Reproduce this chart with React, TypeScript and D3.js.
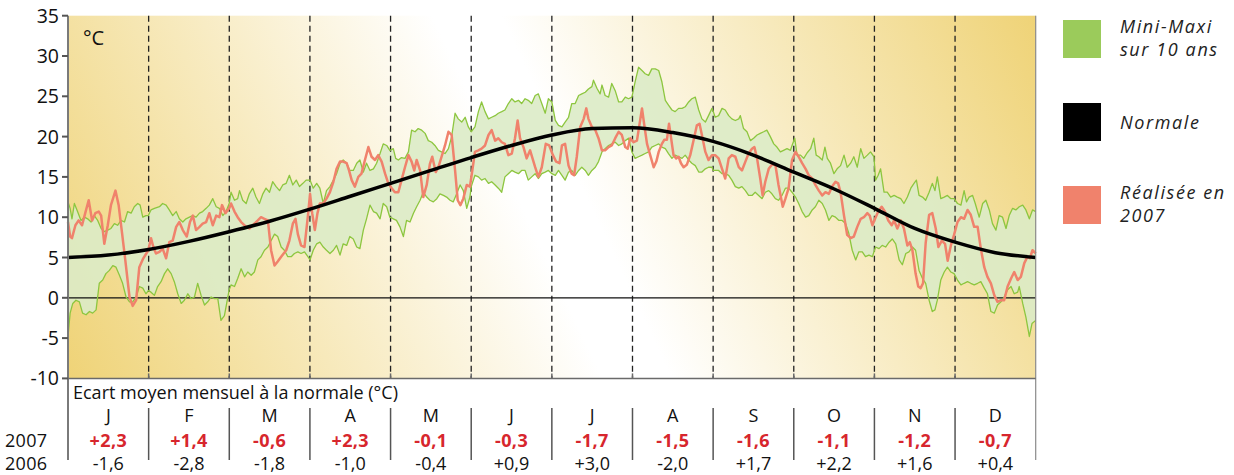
import React from "react";
import * as d3 from "d3";

// Day-of-year positions (equal-width months) and temperatures in °C
const normale: [number, number][] = [
  [0, 5.0], [15.2, 5.3], [30.4, 6.0], [45.6, 7.0], [60.8, 8.2], [76, 9.5], [91.25, 11.0],
  [106.5, 12.6], [121.7, 14.2], [136.9, 15.8], [152.1, 17.4], [167.3, 18.9], [182.5, 20.2],
  [197.7, 21.0], [212.9, 21.1], [228.1, 20.5], [243.3, 19.4], [258.5, 17.7], [273.75, 15.6],
  [289, 13.5], [304.2, 11.1], [319.4, 8.6], [334.6, 6.9], [349.8, 5.6], [365, 5.0],
];

const maxi10ans: [number, number][] = [
  [0, 11.9], [0.8, 11.1], [1.5, 9.8], [2.4, 11.7], [3.6, 10.7], [4.9, 9.6], [6.2, 10.0], [7.4, 9.8], [8.7, 9.4], [9.9, 10.2],
  [11.2, 9.6], [12.5, 8.6], [13.7, 8.2], [15.0, 8.4], [16.2, 8.6], [17.5, 9.2], [18.7, 9.0], [20.0, 9.6], [21.3, 9.4], [22.5, 10.7],
  [23.8, 10.5], [25.0, 11.3], [26.3, 11.7], [27.2, 11.5], [28.2, 10.0], [29.4, 10.2], [30.3, 10.2],
  [31.3, 10.9], [32.6, 11.1], [34.5, 11.3], [35.7, 11.7], [37.0, 11.5], [38.2, 10.9], [39.5, 10.2], [40.8, 10.7], [42.0, 9.8],
  [43.3, 9.4], [44.5, 9.8], [45.8, 10.0], [47.1, 10.2], [48.3, 10.0], [49.6, 10.5], [50.8, 10.7], [52.1, 11.1], [53.3, 11.5],
  [54.6, 12.3], [55.9, 11.3], [57.1, 11.1], [58.4, 10.2], [59.6, 10.7], [60.8, 11.7],
  [61.5, 13.1], [62.8, 12.1], [64.0, 12.3], [64.7, 13.3], [65.9, 12.1], [67.2, 11.7], [68.4, 12.9], [69.7, 13.6], [70.9, 12.5],
  [72.2, 11.7], [73.5, 12.9], [74.7, 13.6], [76.0, 13.1], [77.2, 14.4], [78.5, 13.8], [79.8, 13.3], [81.0, 14.0], [82.3, 14.2],
  [83.5, 15.2], [84.8, 14.0], [86.1, 14.6], [87.3, 13.8], [88.6, 14.2], [89.8, 14.6],
  [91.3, 14.6], [92.5, 13.6], [93.8, 14.2], [95.0, 13.6], [96.3, 11.7], [97.5, 13.3], [98.8, 13.8], [100.1, 14.6], [101.3, 15.4],
  [102.6, 16.7], [103.8, 17.1], [105.1, 16.7], [106.3, 15.8], [107.6, 15.8], [108.9, 16.7], [110.1, 17.1], [111.4, 15.6],
  [112.6, 16.7], [113.9, 15.8], [115.2, 16.0], [116.4, 16.7], [117.7, 17.9], [118.9, 19.1], [120.2, 18.9], [121.4, 18.3],
  [122.7, 18.5], [123.6, 17.3], [124.6, 17.1], [125.8, 17.4], [127.1, 17.3], [128.4, 18.1], [129.6, 20.8], [130.9, 20.6],
  [132.1, 21.0], [133.4, 20.8], [134.7, 20.4], [135.9, 19.5], [137.2, 19.3], [138.4, 18.9], [139.7, 18.3], [140.9, 18.1],
  [142.2, 17.9], [143.5, 18.5], [144.7, 20.0], [146.0, 22.9], [147.2, 22.2], [148.5, 21.8], [149.8, 22.4], [151.0, 21.2], [152.1, 20.6],
  [153.5, 21.2], [154.8, 23.1], [156.0, 24.3], [157.3, 23.1], [158.6, 22.2], [159.8, 22.4], [161.1, 22.6], [162.3, 22.9],
  [163.6, 23.1], [164.8, 23.3], [166.1, 24.1], [167.4, 24.7], [168.6, 24.3], [169.9, 24.5], [171.1, 24.1], [172.4, 24.7],
  [173.6, 24.5], [174.9, 24.1], [176.2, 25.1], [177.4, 25.3], [178.7, 24.1], [180.0, 22.9], [181.2, 24.7], [182.5, 24.3],
  [183.8, 22.0], [185.0, 21.4], [186.3, 21.2], [187.5, 21.8], [188.8, 22.4], [190.0, 24.1], [191.3, 24.1], [192.6, 25.1],
  [193.8, 25.3], [195.1, 25.5], [196.3, 25.9], [197.6, 26.2], [198.2, 27.0], [199.5, 26.0], [200.7, 25.3], [201.4, 26.4],
  [202.6, 25.1], [203.9, 24.9], [205.1, 26.6], [206.4, 25.7], [207.7, 24.3], [208.9, 24.3], [210.2, 24.9], [211.4, 24.7],
  [212.7, 24.9], [213.9, 26.8], [215.2, 28.6], [216.5, 28.2], [217.7, 27.8], [219.0, 27.6], [220.2, 28.4], [221.5, 28.4],
  [222.8, 28.2], [224.0, 26.8], [225.3, 24.5], [226.5, 23.9], [227.8, 23.3], [229.0, 23.1], [230.3, 23.5], [231.6, 23.5],
  [232.8, 23.7], [234.1, 24.3], [235.3, 24.7], [236.6, 24.9], [237.9, 23.3], [239.1, 22.2], [240.4, 21.8], [241.6, 22.6],
  [242.9, 23.5], [243.4, 23.1],
  [244.1, 22.4], [245.4, 22.6], [246.7, 23.5], [247.9, 23.3], [249.2, 22.6], [250.4, 22.2], [251.7, 22.0], [253.0, 22.2],
  [253.6, 22.6], [254.8, 21.0], [256.1, 20.6], [257.4, 19.5], [258.6, 19.8], [259.9, 20.2], [261.1, 20.4], [262.4, 20.6],
  [263.6, 20.8], [264.9, 20.0], [266.2, 19.1], [267.4, 18.7], [268.7, 18.1], [269.9, 18.3], [271.2, 18.5], [272.5, 18.3],
  [273.1, 18.9], [274.1, 19.8], [275.0, 17.7], [276.3, 17.7], [277.5, 17.3], [278.8, 18.0], [280.1, 18.5], [281.3, 19.8],
  [282.2, 17.7], [283.2, 17.5], [284.5, 17.1], [285.5, 18.7], [286.4, 17.3], [287.6, 16.7], [288.9, 15.4], [290.1, 16.0],
  [291.4, 16.4], [292.7, 17.7], [293.9, 16.2], [295.2, 16.7], [296.4, 17.5], [297.7, 16.2], [299.0, 18.5], [300.2, 17.3],
  [301.5, 17.7], [302.7, 18.1], [304.0, 17.5], [304.6, 14.6], [305.6, 15.2], [306.5, 16.0], [307.8, 13.1], [309.0, 13.1],
  [310.3, 12.5], [311.6, 12.7], [312.8, 12.5], [314.1, 12.3], [315.3, 11.7], [316.6, 12.5], [317.9, 13.6], [319.1, 14.2],
  [320.0, 14.6], [321.0, 12.7], [322.3, 12.5], [323.5, 12.1], [324.8, 13.1], [326.0, 14.2], [327.0, 13.3], [327.9, 15.0],
  [329.2, 12.3], [330.5, 12.5], [331.7, 12.7], [333.0, 12.3], [334.2, 12.3], [335.5, 11.7], [336.8, 11.5], [338.0, 13.3],
  [338.9, 11.9], [339.9, 12.5], [341.2, 12.7], [342.2, 11.7], [343.7, 10.0], [345.0, 11.7], [346.2, 12.1], [347.5, 10.9],
  [348.7, 9.2], [350.0, 8.4], [351.2, 10.2], [352.5, 10.0], [353.8, 8.6], [355.0, 10.2], [356.3, 11.1], [357.5, 10.9],
  [358.8, 11.3], [360.1, 11.5], [361.3, 10.9], [362.6, 9.8], [363.8, 10.9], [365, 10.7],
];

const mini10ans: [number, number][] = [
  [0, -4.8], [0.8, -1.9], [1.8, -0.7], [3.0, -0.3], [4.3, -0.5], [5.5, -1.9], [6.8, -2.1], [8.1, -1.7], [9.3, -1.9], [10.6, -1.5],
  [11.8, 1.8], [13.1, 2.2], [14.3, 3.0], [15.6, 3.4], [16.9, 4.0], [18.1, 3.8], [19.4, 2.8], [20.6, 1.8], [21.9, 0.1], [23.2, -0.5],
  [24.4, -0.5], [25.7, 0.1], [26.9, 1.4], [28.2, 1.2], [29.4, 0.5], [30.3, 0.9],
  [31.3, 0.7], [32.6, 0.3], [33.8, 1.4], [35.1, 2.0], [36.4, 3.0], [37.6, 3.6], [38.9, 3.0], [40.1, 2.0], [41.4, 0.5], [42.7, -0.7],
  [43.9, -0.3], [45.2, 0.5], [46.4, -0.1], [47.7, 0.1], [48.9, 1.8], [50.2, 0.3], [51.5, -0.9], [52.7, -0.5], [54.0, 0.1],
  [55.2, -0.1], [56.5, -0.1], [57.7, -2.8], [59.0, -2.2], [60.8, 1.0],
  [61.5, 1.6], [62.8, 1.4], [64.0, 2.4], [65.3, 3.6], [66.6, 2.6], [67.8, 3.2], [69.1, 2.8], [70.3, 3.2], [71.6, 4.7], [72.8, 5.1],
  [74.1, 5.9], [75.4, 6.3], [76.6, 7.1], [77.9, 7.9], [79.1, 7.6], [80.4, 6.3], [81.6, 5.9], [82.9, 5.1], [84.2, 5.1], [85.4, 5.5],
  [86.7, 5.7], [87.9, 5.5], [89.2, 5.7], [90.5, 5.1],
  [91.3, 4.7], [92.5, 5.9], [93.8, 6.7], [95.0, 6.9], [96.3, 6.3], [97.5, 5.9], [98.8, 5.5], [100.1, 5.9], [101.3, 6.5], [102.6, 5.3],
  [103.8, 6.7], [105.1, 6.5], [106.3, 7.6], [107.6, 7.3], [108.9, 6.3], [110.1, 6.1], [111.4, 8.4], [112.6, 9.8], [113.9, 11.5],
  [115.2, 10.7], [116.4, 10.5], [117.7, 9.8], [118.9, 11.7], [120.2, 11.3], [121.4, 10.0], [122.7, 9.8], [123.9, 9.6], [125.2, 8.8],
  [126.5, 7.6], [127.7, 9.6], [129.0, 9.4], [130.3, 10.5], [131.5, 11.3], [132.8, 12.1], [134.0, 13.1], [135.3, 12.5], [136.5, 12.1],
  [137.8, 11.9], [139.1, 12.3], [140.3, 12.9], [141.6, 12.7], [142.8, 12.5], [144.1, 12.1], [145.3, 11.9], [146.6, 12.9],
  [147.9, 14.0], [149.1, 13.3], [150.4, 11.1], [151.6, 12.5], [152.1, 13.8],
  [153.5, 15.2], [154.8, 15.0], [156.0, 14.6], [157.3, 14.8], [158.6, 14.2], [159.8, 14.4], [161.1, 14.0], [162.3, 13.6],
  [163.6, 13.1], [164.8, 15.0], [166.1, 15.4], [167.4, 15.8], [168.6, 15.6], [169.9, 15.4], [171.1, 15.8], [172.4, 15.8],
  [173.6, 14.6], [174.9, 15.0], [176.2, 15.4], [177.4, 14.8], [178.7, 15.4], [180.0, 15.6], [181.2, 15.8],
  [182.5, 15.4], [183.8, 15.2], [185.0, 15.8], [186.3, 15.2], [187.5, 14.6], [188.8, 15.6], [190.0, 15.8], [191.3, 15.2],
  [192.6, 15.8], [193.8, 16.2], [195.1, 15.8], [196.3, 15.2], [197.6, 15.8], [198.9, 16.2], [200.1, 16.9], [201.4, 18.1],
  [202.6, 18.5], [203.9, 18.9], [205.1, 19.1], [206.4, 19.3], [207.7, 18.9], [208.9, 19.1], [210.2, 19.5], [211.4, 19.8],
  [212.7, 18.1], [213.9, 17.3], [215.2, 17.5], [216.5, 17.7], [217.7, 17.9], [219.0, 18.1], [220.2, 18.7], [221.5, 18.9],
  [222.8, 19.1], [224.0, 18.7], [225.3, 18.5], [226.5, 17.9], [227.8, 17.3], [229.0, 17.7], [230.3, 17.5], [231.6, 17.3],
  [232.8, 17.7], [234.1, 17.1], [235.3, 16.7], [236.6, 16.4], [237.9, 15.6], [239.1, 15.6], [240.4, 16.0], [241.6, 16.2],
  [242.9, 16.2], [243.4, 15.8],
  [244.1, 15.8], [245.4, 15.8], [246.7, 15.4], [247.9, 15.4], [249.2, 15.2], [250.4, 14.6], [251.7, 13.8], [253.0, 13.6],
  [254.2, 13.8], [255.5, 13.3], [256.7, 12.7], [258.0, 12.7], [259.2, 13.1], [260.5, 12.7], [261.8, 12.3], [263.0, 13.1],
  [264.3, 13.3], [265.5, 12.9], [266.8, 12.3], [268.0, 12.1], [269.3, 12.7], [270.6, 13.6], [271.8, 13.6], [273.1, 13.1],
  [274.4, 12.5], [275.6, 11.7], [276.9, 10.7], [278.2, 10.0], [279.4, 10.2], [280.7, 10.9], [281.9, 11.3], [283.2, 12.1],
  [284.5, 11.7], [285.7, 10.9], [287.0, 9.6], [288.2, 10.2], [289.5, 10.0], [290.8, 9.6], [292.0, 9.6], [293.3, 9.2],
  [294.5, 8.0], [295.8, 5.9], [297.1, 4.7], [298.3, 5.7], [299.6, 5.7], [300.8, 5.1], [302.1, 5.3], [303.4, 5.1], [304.6, 6.3],
  [305.9, 6.1], [307.1, 6.5], [308.4, 6.3], [309.7, 6.9], [310.9, 7.3], [312.2, 6.7], [313.5, 4.7], [314.7, 4.1], [316.0, 5.5],
  [317.2, 5.7], [318.5, 6.3], [319.7, 5.9], [321.0, 3.4], [322.3, 2.4], [323.5, 1.8], [324.8, -0.3], [326.0, -1.7], [327.0, -1.5],
  [327.9, -0.3], [329.2, 2.2], [330.5, 3.2], [331.7, 3.8], [333.0, 3.2], [334.2, 3.0], [335.5, 2.2], [336.8, 1.6], [338.0, 1.8],
  [339.3, 2.0], [340.5, 1.8], [341.8, 1.6], [343.1, 1.8], [344.3, 2.0], [345.6, 1.2], [346.8, 0.5], [348.1, -1.7], [349.4, -1.9],
  [350.6, -0.9], [351.9, -0.5], [353.1, 0.1], [354.4, 1.0], [355.7, 1.4], [356.9, 0.5], [358.2, 0.7], [358.8, 1.4], [360.1, -0.7],
  [361.3, -2.4], [362.6, -4.8], [363.6, -3.2], [365, -2.8],
];

const realise2007: [number, number][] = [
  [0, 9.4], [0.8, 7.6], [1.5, 7.4], [2.8, 9.0], [4.0, 9.6], [5.3, 9.0], [6.5, 10.5], [7.8, 12.1], [9.1, 9.6], [10.3, 10.5],
  [11.6, 10.7], [12.5, 10.2], [13.7, 6.7], [15.0, 9.0], [16.2, 11.5], [17.9, 13.3], [19.1, 11.5], [20.4, 8.0], [21.6, 4.7],
  [23.2, 0.1], [24.4, -1.0], [25.7, -0.3], [26.9, 3.8], [28.4, 4.9], [30.3, 5.9],
  [31.3, 7.4], [32.2, 6.3], [33.2, 5.5], [34.5, 5.7], [35.7, 6.1], [37.0, 4.9], [38.2, 6.9], [39.5, 7.1], [40.8, 8.8], [42.0, 9.4],
  [43.3, 8.4], [44.8, 7.6], [46.0, 9.4], [47.1, 10.2], [48.3, 8.4], [49.6, 8.8], [50.8, 9.2], [52.1, 9.4], [53.3, 10.5], [54.6, 9.0],
  [55.9, 10.2], [57.1, 10.0], [58.1, 11.5], [59.4, 10.5], [60.8, 11.1],
  [61.5, 11.7], [62.8, 10.7], [64.0, 10.0], [65.3, 9.4], [67.2, 8.8], [68.4, 8.6], [69.7, 9.0], [71.6, 9.6], [72.8, 10.0],
  [74.1, 9.8], [75.4, 9.6], [76.6, 5.9], [77.9, 4.0], [79.1, 4.5], [80.4, 5.1], [82.3, 5.9], [83.5, 7.1], [84.8, 9.2], [85.8, 9.8],
  [86.7, 7.9], [87.9, 6.5], [89.2, 6.3], [90.5, 10.2],
  [91.3, 12.9], [92.1, 10.5], [93.1, 8.4], [94.1, 10.5], [95.0, 11.7], [96.3, 11.7], [97.5, 12.3], [98.8, 13.1], [100.1, 14.4],
  [101.3, 16.0], [102.6, 16.9], [103.8, 16.9], [105.1, 16.7], [106.0, 15.8], [107.0, 14.6], [108.2, 13.8], [109.5, 15.0],
  [110.7, 15.4], [112.0, 17.1], [113.3, 18.7], [114.5, 17.5], [115.8, 17.1], [117.0, 17.7], [118.3, 16.9], [119.6, 15.4],
  [120.8, 14.2], [122.1, 13.6], [123.3, 13.1], [124.6, 13.1], [125.8, 14.6], [127.1, 16.2], [128.4, 17.7], [129.6, 16.9],
  [130.6, 15.8], [131.5, 17.1], [132.8, 15.8], [134.0, 12.5], [135.3, 14.0], [136.5, 16.6], [137.4, 17.5], [138.7, 15.6],
  [139.7, 16.2], [140.9, 17.5], [142.2, 18.9], [143.5, 20.6], [144.7, 20.2], [146.0, 15.8], [147.0, 12.1], [148.0, 11.5],
  [149.1, 12.3], [150.4, 14.0], [151.6, 13.8], [152.5, 15.8],
  [153.5, 18.1], [154.8, 18.3], [156.0, 18.5], [157.3, 18.9], [158.6, 20.2], [159.8, 20.8], [161.1, 19.5], [162.3, 19.8],
  [163.6, 19.3], [164.8, 19.1], [166.1, 17.7], [167.4, 17.9], [168.6, 19.8], [169.6, 22.0], [170.5, 19.8], [171.8, 18.7],
  [173.0, 17.3], [174.3, 18.3], [176.2, 16.2], [177.4, 15.0], [178.7, 16.2], [180.2, 19.1], [181.5, 18.9],
  [182.9, 17.7], [184.1, 16.9], [185.4, 16.7], [186.3, 18.9], [187.5, 19.1], [188.8, 16.4], [190.0, 15.4], [190.9, 15.2],
  [191.9, 17.5], [193.2, 21.2], [194.5, 22.2], [195.5, 23.5], [196.3, 22.2], [197.6, 21.2], [198.9, 20.8], [200.1, 19.8],
  [201.4, 18.3], [202.6, 18.3], [203.9, 18.7], [205.1, 18.9], [206.4, 19.8], [207.7, 20.6], [208.9, 20.2], [210.2, 18.7],
  [211.1, 18.5], [212.1, 19.8], [213.3, 19.3], [214.6, 19.5], [215.6, 21.6], [216.5, 23.5], [217.3, 21.6], [218.4, 19.1],
  [219.6, 17.7], [220.9, 16.2], [221.9, 16.9], [222.8, 18.1], [224.0, 19.1], [224.9, 19.6], [225.9, 19.6], [226.7, 21.6],
  [227.4, 20.0], [228.4, 17.7], [229.4, 17.3], [230.3, 17.5], [231.2, 16.7], [232.2, 16.2], [233.4, 16.5], [234.7, 17.7],
  [236.0, 19.6], [237.2, 21.4], [238.2, 21.6], [239.1, 20.2], [240.4, 18.1], [241.6, 17.1], [242.9, 17.7],
  [244.1, 17.7], [245.4, 17.3], [246.7, 16.0], [247.9, 14.8], [249.2, 17.3], [250.4, 17.7], [251.7, 17.5], [253.0, 16.2],
  [254.2, 15.8], [255.5, 16.9], [256.7, 17.9], [258.0, 18.5], [258.9, 18.7], [259.9, 17.3], [261.1, 14.8], [262.0, 12.7],
  [263.0, 14.4], [264.3, 16.0], [265.5, 16.5], [266.8, 16.5], [268.0, 14.0], [269.6, 11.3], [270.6, 12.3], [271.8, 13.6],
  [273.1, 17.1], [274.4, 18.1], [275.6, 17.5], [276.9, 16.7], [278.2, 16.0], [279.4, 15.2], [280.7, 14.8], [281.9, 14.0],
  [283.2, 13.3], [284.5, 12.7], [285.7, 13.1], [287.0, 12.9], [288.2, 13.8], [289.5, 14.4], [290.5, 14.2], [291.4, 13.1],
  [292.7, 10.2], [293.9, 7.8], [295.2, 7.4], [296.4, 7.6], [297.7, 8.8], [299.0, 9.8], [300.2, 10.0], [301.5, 10.5],
  [302.4, 10.2], [303.4, 9.0], [304.4, 9.8], [305.6, 10.7], [306.9, 11.3], [308.1, 10.7], [309.4, 9.6], [310.7, 9.0],
  [311.6, 9.6], [312.8, 8.6], [314.1, 9.6], [315.3, 8.6], [316.6, 6.5], [317.5, 6.9], [318.5, 5.9], [319.7, 3.0], [320.7, 1.4],
  [321.6, 1.2], [322.5, 1.8], [323.5, 6.8], [324.8, 10.3], [326.0, 10.5], [327.3, 8.6], [328.3, 6.3], [329.6, 7.1],
  [330.8, 6.7], [331.8, 4.6], [333.0, 6.5], [334.2, 7.8], [335.5, 9.4], [336.8, 10.0], [338.0, 9.8], [339.3, 10.9],
  [340.5, 10.3], [341.8, 8.8], [343.1, 8.8], [344.3, 6.1], [345.6, 3.8], [346.8, 2.6], [348.1, 1.8], [349.4, 0.3],
  [350.6, -0.5], [351.9, -0.3], [353.1, -0.3], [354.4, 1.4], [355.7, 2.4], [356.9, 3.2], [358.2, 2.2], [359.4, 2.6],
  [360.7, 4.3], [361.9, 5.1], [362.8, 4.9], [363.8, 5.9], [365, 5.5],
];

const mois = ["J", "F", "M", "A", "M", "J", "J", "A", "S", "O", "N", "D"];
const ecart2007 = [2.3, 1.4, -0.6, 2.3, -0.1, -0.3, -1.7, -1.5, -1.6, -1.1, -1.2, -0.7];
const ecart2006 = [-1.6, -2.8, -1.8, -1.0, -0.4, 0.9, 3.0, -2.0, 1.7, 2.2, 1.6, 0.4];
const yTicks = [35, 30, 25, 20, 15, 10, 5, 0, -5, -10];

const legende = [
  { color: "#9BCB5B", lines: ["Mini-Maxi", "sur 10 ans"] },
  { color: "#000000", lines: ["Normale"] },
  { color: "#F0826C", lines: ["Réalisée en", "2007"] },
];

const FONT = "'Open Sans', 'Noto Sans', sans-serif";

const x = d3.scaleLinear().domain([0, 365]).range([68, 1035.7]);
const y = d3.scaleLinear().domain([-10, 35]).range([378.4, 15.7]);

const fmt = (v: number) => {
  const s = Math.abs(v).toFixed(1).replace(".", ",");
  return (v >= 0 ? "+" : "-") + s;
};

export default function App() {
  const line = d3
    .line<[number, number]>()
    .x((d) => x(d[0]))
    .y((d) => y(d[1]));
  const smooth = d3
    .line<[number, number]>()
    .x((d) => x(d[0]))
    .y((d) => y(d[1]))
    .curve(d3.curveMonotoneX);

  const bandPts: [number, number][] = [...maxi10ans, ...[...mini10ans].reverse()];
  const bandPath = line(bandPts) + "Z";

  const monthEdges = d3.range(13).map((i) => (i * 365) / 12);
  const inner = monthEdges.slice(1, 12);
  const [x0, x1] = x.range();
  const [yBot, yTop] = y.range();
  const tableBottom = 460;

  return (
    <svg width={1234} height={475} style={{ display: "block", position: "absolute", left: 0, top: 0 }}>
      <defs>
        <linearGradient id="fond" gradientUnits="userSpaceOnUse" x1={68} y1={378} x2={1000} y2={-60}>
          <stop offset="0" stopColor="#EFD377" />
          <stop offset="0.47" stopColor="#FFFFFF" />
          <stop offset="0.53" stopColor="#FFFFFF" />
          <stop offset="1" stopColor="#EFD377" />
        </linearGradient>
      </defs>

      <rect x={x0} y={yTop} width={x1 - x0} height={yBot - yTop} fill="url(#fond)" />

      {/* enveloppe mini-maxi */}
      <path d={bandPath} fill="#DCEBC6" fillOpacity={0.9} stroke="none" />

      {/* séparations mensuelles */}
      {inner.map((d, i) => (
        <line key={i} x1={x(d)} x2={x(d)} y1={yTop} y2={yBot} stroke="#222" strokeWidth={1.3} strokeDasharray="6,4" />
      ))}

      <line x1={x0} x2={x1} y1={y(0)} y2={y(0)} stroke="#111" strokeWidth={1.2} />

      <path d={line(maxi10ans) || ""} fill="none" stroke="#8DC63F" strokeWidth={1.3} strokeLinejoin="round" />
      <path d={line(mini10ans) || ""} fill="none" stroke="#8DC63F" strokeWidth={1.3} strokeLinejoin="round" />

      <path d={line(realise2007) || ""} fill="none" stroke="#F0826C" strokeWidth={2.5} strokeLinejoin="round" />

      <path d={smooth(normale) || ""} fill="none" stroke="#000" strokeWidth={3.5} />

      {/* axes */}
      <line x1={x0} x2={x0} y1={yTop} y2={tableBottom} stroke="#7a7a7a" strokeWidth={2} />
      <line x1={x1} x2={x1} y1={yTop} y2={tableBottom} stroke="#8a8a8a" strokeWidth={1.2} />
      <line x1={x0} x2={x1} y1={yBot} y2={yBot} stroke="#6a6a6a" strokeWidth={1.5} />
      {inner.map((d, i) => (
        <line key={i} x1={x(d)} x2={x(d)} y1={yBot - 5} y2={yBot} stroke="#6a6a6a" strokeWidth={1.5} />
      ))}
      {yTicks.map((t) => (
        <g key={t}>
          <line x1={x0 - 6} x2={x0} y1={y(t)} y2={y(t)} stroke="#555" strokeWidth={2} />
          <text x={x0 - 9} y={y(t)} dy="0.36em" textAnchor="end" fontFamily={FONT} fontSize={19.5} fill="#111">
            {t}
          </text>
        </g>
      ))}
      <text x={83} y={45} fontFamily={FONT} fontSize={20} fill="#111">°C</text>

      {/* tableau des écarts */}
      <text x={73} y={399} fontFamily={FONT} fontSize={18} fill="#111">Ecart moyen mensuel à la normale (°C)</text>
      {inner.map((d, i) => (
        <line key={i} x1={x(d)} x2={x(d)} y1={408} y2={tableBottom} stroke="#555" strokeWidth={1.5} />
      ))}
      {mois.map((m, i) => {
        const cx = x((monthEdges[i] + monthEdges[i + 1]) / 2);
        return (
          <g key={i} fontFamily={FONT} fontSize={18} textAnchor="middle">
            <text x={cx} y={422} fill="#111">{m}</text>
            <text x={cx} y={447} fill="#D7262D" fontWeight="bold" letterSpacing={0.4}>{fmt(ecart2007[i])}</text>
            <text x={cx} y={470} fill="#111">{fmt(ecart2006[i])}</text>
          </g>
        );
      })}
      <text x={5} y={447} fontFamily={FONT} fontSize={18} letterSpacing={0.3} fill="#111">2007</text>
      <text x={5} y={470} fontFamily={FONT} fontSize={18} letterSpacing={0.3} fill="#111">2006</text>

      {/* légende */}
      {legende.map((l, i) => {
        const top = 20 + i * 83;
        const first = l.lines.length === 1 ? top + 26 : top + 13;
        return (
          <g key={i}>
            <rect x={1063} y={top} width={38} height={38} fill={l.color} />
            {l.lines.map((t, j) => (
              <text
                key={j}
                x={1120}
                y={first + j * 23}
                fontFamily={FONT}
                fontSize={18}
                fontStyle="italic"
                letterSpacing={1.6}
                fill="#222"
              >
                {t}
              </text>
            ))}
          </g>
        );
      })}
    </svg>
  );
}
